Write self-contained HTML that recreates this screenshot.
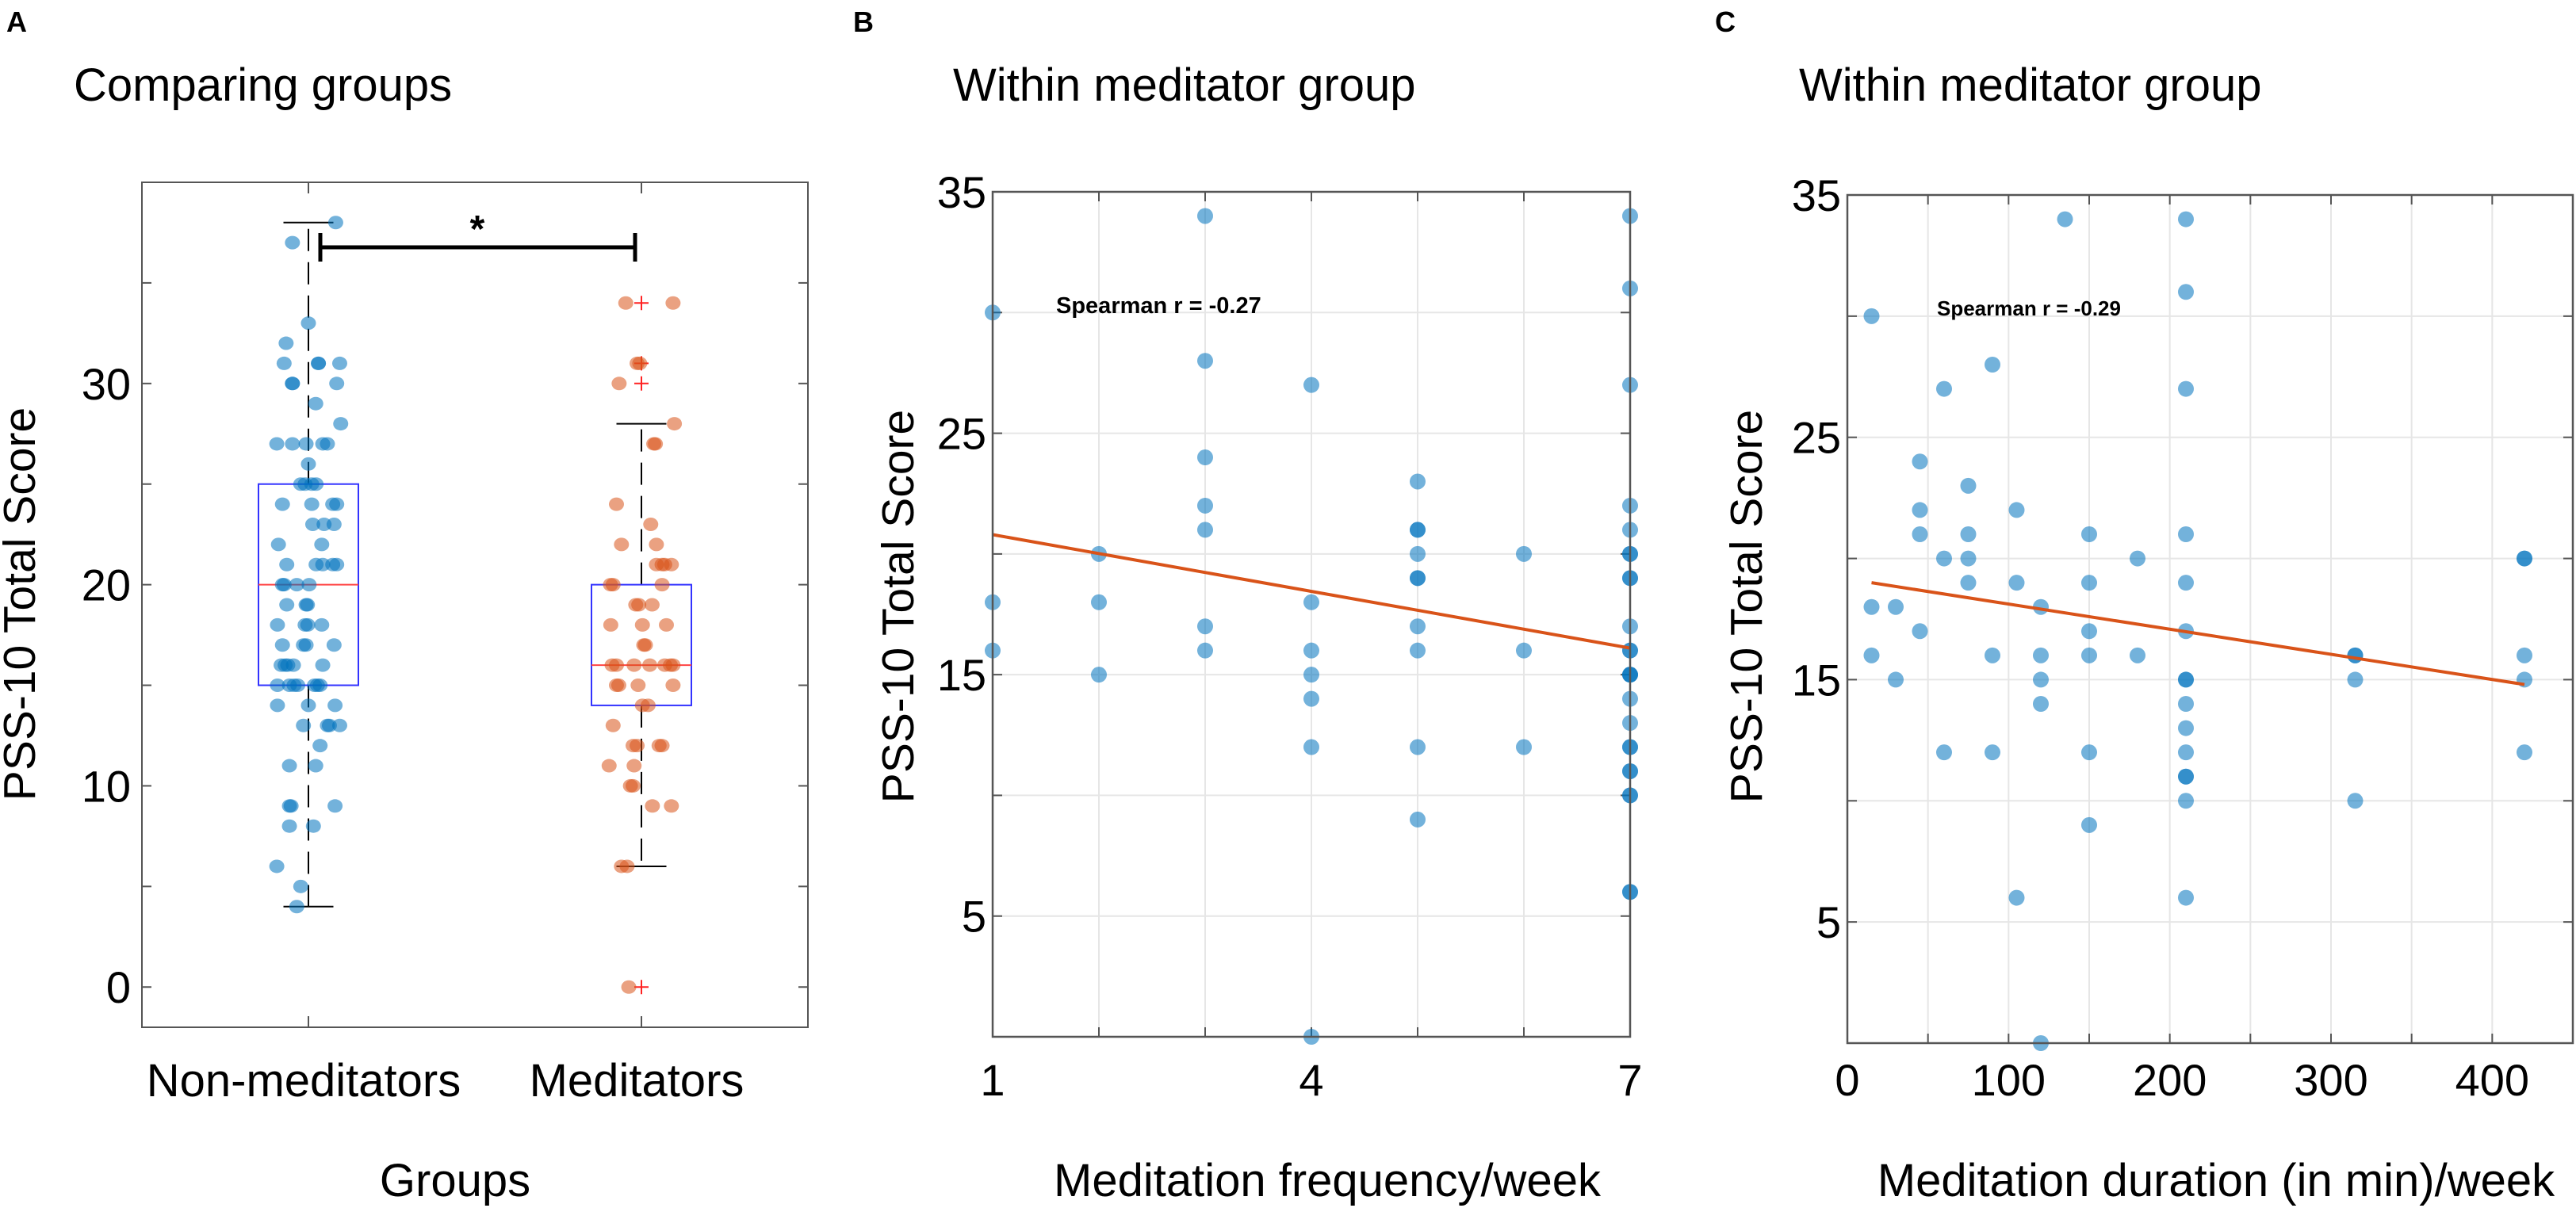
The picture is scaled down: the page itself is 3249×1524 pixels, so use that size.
<!DOCTYPE html>
<html><head><meta charset="utf-8">
<style>
html,body{margin:0;padding:0;background:#fff;}
svg{display:block;}
text{font-family:"Liberation Sans",sans-serif;fill:#000;}
</style></head>
<body>
<svg id="fig" width="3249" height="1524" viewBox="0 0 3249 1524" xmlns="http://www.w3.org/2000/svg">
<text x="8" y="40" font-size="36" font-weight="bold">A</text>
<text x="1076" y="40" font-size="36" font-weight="bold">B</text>
<text x="2163" y="40" font-size="36" font-weight="bold">C</text>
<text x="93" y="127" font-size="58">Comparing groups</text>
<text x="1202" y="127" font-size="58">Within meditator group</text>
<text x="2269" y="127" font-size="58">Within meditator group</text>
<g id="pa"></g>
<g id="pb"></g>
<g id="pc"></g>
</svg>
<script>
// ---- Panel A data ----
const groupLabels = ["Non-meditators", "Meditators"];
const nonMedValues = [38,37,33,32,31,31,31,31,30,30,30,29,28,27,27,27,27,27,26,25,25,25,25,24,24,24,24,23,23,23,22,22,21,21,21,21,21,20,20,20,20,19,19,19,18,18,18,18,17,17,17,17,16,16,16,16,16,15,15,15,15,15,15,15,14,14,14,13,13,13,13,12,11,11,9,9,9,8,8,6,5,4];
const nonMedJitter = [0.082,-0.048,0,-0.067,-0.073,0.03,0.03,0.094,-0.048,-0.048,0.085,0.022,0.097,-0.095,-0.048,-0.007,0.043,0.057,0,-0.023,-0.01,0.01,0.023,-0.078,0.01,0.073,0.085,0.013,0.047,0.077,-0.09,0.04,-0.065,0.023,0.043,0.073,0.085,-0.078,-0.073,-0.035,0.002,-0.065,-0.007,-0.003,-0.093,-0.01,-0.002,0.04,-0.078,-0.015,-0.007,0.077,-0.082,-0.07,-0.062,-0.045,0.043,-0.093,-0.057,-0.043,-0.032,0.018,0.027,0.035,-0.093,0,0.08,-0.015,0.057,0.063,0.094,0.035,-0.057,0.022,-0.057,-0.052,0.08,-0.057,0.015,-0.095,-0.023,-0.035];
const medValues = [34,34,31,31,30,28,27,27,24,23,22,22,21,21,21,21,20,20,20,19,19,19,18,18,18,17,17,16,16,16,16,16,16,16,15,15,15,15,14,14,13,12,12,12,12,11,11,10,10,9,9,6,6,0];
const medJitter = [-0.047,0.095,-0.013,-0.005,-0.067,0.099,0.037,0.042,-0.075,0.028,-0.06,0.045,0.045,0.062,0.07,0.09,-0.093,-0.085,0.062,-0.017,-0.008,0.032,-0.092,0.003,0.075,0.007,0.012,-0.088,-0.075,-0.022,0.025,0.07,0.087,0.095,-0.075,-0.068,-0.01,0.095,0.003,0.02,-0.085,-0.025,-0.013,0.053,0.062,-0.097,-0.022,-0.033,-0.025,0.033,0.09,-0.06,-0.043,-0.038];
const boxQ1 = [15, 14];
const boxMedian = [20, 16];
const boxQ3 = [25, 20];
const whiskerLow = [4, 6];
const whiskerHigh = [38, 28];
const outlierGroup = [2, 2, 2, 2];
const outlierValues = [34, 31, 30, 0];
const yTicksA = [0, 5, 10, 15, 20, 25, 30, 35];
const yTickLabelsA = ["0", "", "10", "", "20", "", "30", ""];

// ---- Panel B data ----
const freqX = [1,1,1,2,2,2,3,3,3,3,3,3,3,4,4,4,4,4,4,4,5,5,5,5,5,5,5,5,5,5,6,6,6,7,7,7,7,7,7,7,7,7,7,7,7,7,7,7,7,7,7,7,7,7,7,7,7,7];
const freqY = [30,18,16,20,18,15,34,28,24,22,21,17,16,27,18,16,15,14,12,0,23,21,21,20,19,19,17,16,12,9,20,16,12,34,31,27,22,21,20,20,19,19,17,16,16,15,15,15,14,13,12,12,11,11,10,10,6,6];
const fitB = [[1, 20.8], [7, 16.1]];
const xTicksB = [1, 2, 3, 4, 5, 6, 7];
const xTickLabelsB = ["1", "", "", "4", "", "", "7"];
const yTicksBC = [5, 10, 15, 20, 25, 30, 35];
const yTickLabelsBC = ["5", "", "15", "", "25", "", "35"];

// ---- Panel C data ----
const durX = [15,15,15,30,30,45,45,45,45,60,60,60,75,75,75,75,90,90,90,105,105,105,120,120,120,120,120,135,150,150,150,150,150,150,180,180,210,210,210,210,210,210,210,210,210,210,210,210,210,210,210,315,315,315,315,420,420,420,420,420];
const durY = [30,18,16,18,15,24,22,21,17,27,20,12,23,21,20,19,28,16,12,22,19,6,18,16,15,14,0,34,21,19,17,16,12,9,20,16,34,31,27,21,19,17,15,15,14,13,12,11,11,10,6,16,16,15,10,20,20,16,15,12];
const fitC = [[15, 19.0], [420, 14.8]];
const xTicksC = [0, 50, 100, 150, 200, 250, 300, 350, 400, 450];
const xTickLabelsC = ["0", "", "100", "", "200", "", "300", "", "400", ""];

const NS = "http://www.w3.org/2000/svg";
function mk(parent, tag, attrs, txt) {
  const el = document.createElementNS(NS, tag);
  for (const k in attrs) el.setAttribute(k, attrs[k]);
  if (txt !== undefined) el.textContent = txt;
  parent.appendChild(el);
  return el;
}
const BLUE = "#0072BD", ORANGE = "#D95319", AX = "#555";

// ===== Panel A =====
(function () {
  const g = document.getElementById("pa");
  const L = 179, R = 1019, T = 230, B = 1296;
  const x = v => L + (v - 0.5) / 2 * (R - L);
  const y = v => B - (v + 2) / 42 * (B - T);
  let el;
  yTicksA.forEach((t, i) => {
    el = mk(g, "line", {x1: L, x2: L + 12, y1: y(t), y2: y(t), stroke: AX, "stroke-width": 2});
    
    
    el = mk(g, "line", {x1: R - 12, x2: R, y1: y(t), y2: y(t), stroke: AX, "stroke-width": 2});
    
    
    if (yTickLabelsA[i]) {
      el = mk(g, "text", {x: L - 14, y: y(t) + 20, "font-size": 56, "text-anchor": "end"}, yTickLabelsA[i]);
      
      
    }
  });
  [1, 2].forEach((c, i) => {
    el = mk(g, "line", {x1: x(c), x2: x(c), y1: B, y2: B - 14, stroke: AX, "stroke-width": 2});
    
    
    el = mk(g, "line", {x1: x(c), x2: x(c), y1: T, y2: T + 14, stroke: AX, "stroke-width": 2});
    
    
    el = mk(g, "text", {x: x(c) - 6, y: 1383, "font-size": 58, "text-anchor": "middle"}, groupLabels[i]);
    
    
  });
  for (let i = 0; i < 2; i++) {
    const c = i + 1, hw = 0.15;
    el = mk(g, "line", {x1: x(c), x2: x(c), y1: y(boxQ3[i]), y2: y(whiskerHigh[i]), stroke: "#000", "stroke-width": 2, "stroke-dasharray": "28,14"});
    
    
    el = mk(g, "line", {x1: x(c), x2: x(c), y1: y(boxQ1[i]), y2: y(whiskerLow[i]), stroke: "#000", "stroke-width": 2, "stroke-dasharray": "28,14"});
    
    
    el = mk(g, "line", {x1: x(c - 0.075), x2: x(c + 0.075), y1: y(whiskerHigh[i]), y2: y(whiskerHigh[i]), stroke: "#000", "stroke-width": 2});
    
    
    el = mk(g, "line", {x1: x(c - 0.075), x2: x(c + 0.075), y1: y(whiskerLow[i]), y2: y(whiskerLow[i]), stroke: "#000", "stroke-width": 2});
    
    
    el = mk(g, "rect", {x: x(c - hw), y: y(boxQ3[i]), width: x(c + hw) - x(c - hw), height: y(boxQ1[i]) - y(boxQ3[i]), fill: "none", stroke: "#3333ff", "stroke-width": 2});
    
    
    el = mk(g, "line", {x1: x(c - hw), x2: x(c + hw), y1: y(boxMedian[i]), y2: y(boxMedian[i]), stroke: "#ff4444", "stroke-width": 2});
    
    
  }
  outlierValues.forEach((v, i) => {
    const cx = x(outlierGroup[i]), cy = y(v);
    el = mk(g, "path", {d: `M${cx - 9} ${cy}H${cx + 9}M${cx} ${cy - 9}V${cy + 9}`, stroke: "#ff2222", "stroke-width": 2});
    
    
  });
  nonMedValues.forEach((v, i) => {
    el = mk(g, "ellipse", {cx: x(1 + nonMedJitter[i]), cy: y(v), rx: 9.5, ry: 8.5, fill: BLUE, "fill-opacity": 0.55});
    
    
  });
  medValues.forEach((v, i) => {
    el = mk(g, "ellipse", {cx: x(2 + medJitter[i]), cy: y(v), rx: 9.5, ry: 8.5, fill: ORANGE, "fill-opacity": 0.55});
    
    
  });
  el = mk(g, "rect", {x: L, y: T, width: R - L, height: B - T, fill: "none", stroke: AX, "stroke-width": 2});
  
  
  el = mk(g, "path", {d: "M404 294V330M404 312H801M801 294V330", stroke: "#000", "stroke-width": 5, fill: "none"});
  
  
  el = mk(g, "text", {x: 602, y: 305, "font-size": 48, "font-weight": "bold", "text-anchor": "middle"}, "*");
  
  
  el = mk(g, "text", {x: 574, y: 1509, "font-size": 58, "text-anchor": "middle"}, "Groups");
  
  
  el = mk(g, "text", {x: 0, y: 0, "font-size": 57, "text-anchor": "middle", transform: "translate(44 762) rotate(-90)"}, "PSS-10 Total Score");
  
  
})();

// ===== Scatter panels =====
function scatter(gid, L, R, T, B, xmin, xmax, xs, ys, fit, xt, xtl, ytitleX, xtitle, xtitleX, ann, annX, annY, annSize) {
  const g = document.getElementById(gid);
  const x = v => L + (v - xmin) / (xmax - xmin) * (R - L);
  const y = v => B - v / 35 * (B - T);
  let el;
  xt.forEach((t, i) => {
    el = mk(g, "line", {x1: x(t), x2: x(t), y1: T, y2: B, stroke: "#e6e6e6", "stroke-width": 2});
    
    
    el = mk(g, "line", {x1: x(t), x2: x(t), y1: B, y2: B - 12, stroke: AX, "stroke-width": 2});
    
    
    el = mk(g, "line", {x1: x(t), x2: x(t), y1: T, y2: T + 12, stroke: AX, "stroke-width": 2});
    
    
    if (xtl[i]) {
      el = mk(g, "text", {x: x(t), y: 1382, "font-size": 56, "text-anchor": "middle"}, xtl[i]);
      
      
    }
  });
  yTicksBC.forEach((t, i) => {
    el = mk(g, "line", {x1: L, x2: R, y1: y(t), y2: y(t), stroke: "#e6e6e6", "stroke-width": 2});
    
    
    el = mk(g, "line", {x1: L, x2: L + 12, y1: y(t), y2: y(t), stroke: AX, "stroke-width": 2});
    
    
    el = mk(g, "line", {x1: R - 12, x2: R, y1: y(t), y2: y(t), stroke: AX, "stroke-width": 2});
    
    
    if (yTickLabelsBC[i]) {
      el = mk(g, "text", {x: L - 8, y: y(t) + 20, "font-size": 56, "text-anchor": "end"}, yTickLabelsBC[i]);
      
      
    }
  });
  xs.forEach((v, i) => {
    el = mk(g, "circle", {cx: x(v), cy: y(ys[i]), r: 10, fill: BLUE, "fill-opacity": 0.55});
    
    
  });
  el = mk(g, "line", {x1: x(fit[0][0]), y1: y(fit[0][1]), x2: x(fit[1][0]), y2: y(fit[1][1]), stroke: ORANGE, "stroke-width": 4});
  
  
  el = mk(g, "rect", {x: L, y: T, width: R - L, height: B - T, fill: "none", stroke: AX, "stroke-width": 2.5});
  
  
  el = mk(g, "text", {x: annX, y: annY, "font-size": annSize, "font-weight": "bold"}, ann);
  
  
  el = mk(g, "text", {x: xtitleX, y: 1509, "font-size": 58, "text-anchor": "middle"}, xtitle);
  
  
  el = mk(g, "text", {x: 0, y: 0, "font-size": 57, "text-anchor": "middle", transform: `translate(${ytitleX} 765) rotate(-90)`}, "PSS-10 Total Score");
  
  
}
scatter("pb", 1252, 2056, 242, 1308, 1, 7, freqX, freqY, fitB, xTicksB, xTickLabelsB, 1152, "Meditation frequency/week", 1674, "Spearman r = -0.27", 1332, 395, 29);
scatter("pc", 2330, 3245, 246, 1316, 0, 450, durX, durY, fitC, xTicksC, xTickLabelsC, 2222, "Meditation duration (in min)/week", 2795, "Spearman r = -0.29", 2443, 398, 26);
</script>
</body></html>
